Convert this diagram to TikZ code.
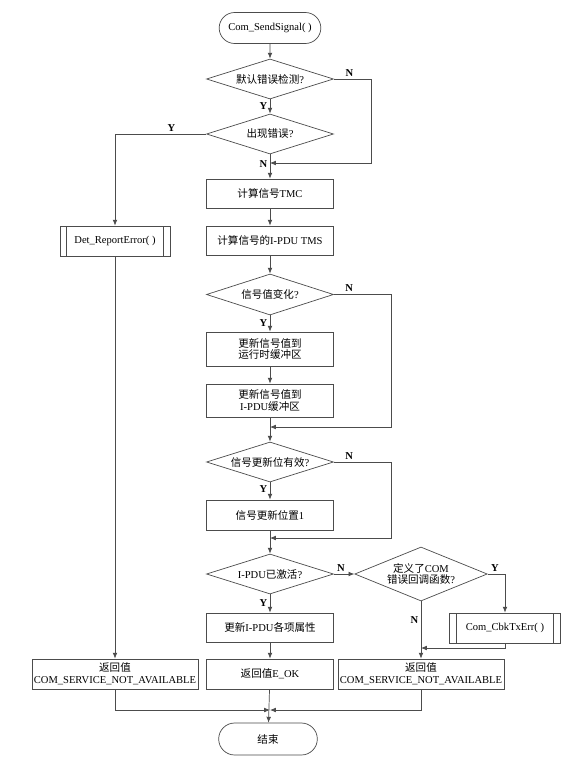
\documentclass[tikz,border=0pt]{standalone}
\usepackage{fontspec}
\setmainfont{Liberation Serif}
\newfontfamily\cjk{Noto Sans CJK SC}
\newcommand{\zh}[1]{{\cjk #1}}
\usetikzlibrary{positioning,shapes.geometric,shapes.misc,arrows.meta,calc}

\begin{document}
\begin{tikzpicture}[
    x=0.03cm, y=-0.03cm,
    % Flowchart styles
    base/.style={draw=black!70, line width=0.6pt, align=center, inner sep=1pt,
                 font=\fontsize{9}{10}\selectfont},
    terminal/.style={base, rounded rectangle, minimum width=3.12cm, minimum height=0.93cm},
    proc_box/.style={base, rectangle, minimum width=3.81cm, minimum height=0.87cm},
    sub_proc/.style={proc_box, path picture={
        \draw[black!70, line width=0.6pt]
            ([xshift=0.2cm]path picture bounding box.north west) -- ([xshift=0.2cm]path picture bounding box.south west)
            ([xshift=-0.2cm]path picture bounding box.north east) -- ([xshift=-0.2cm]path picture bounding box.south east);}},
    decision/.style={base, diamond, aspect=3, inner sep=0pt,
                     minimum width=3.81cm, minimum height=1.2cm},
    ret_box/.style={base, rectangle, inner xsep=0pt, minimum width=4.98cm, minimum height=0.9cm},
    yn/.style={font=\fontsize{9}{10}\selectfont\bfseries, inner sep=2pt},
    flow_arrow/.style={-{Latex[length=5pt,width=4pt]}, draw=black!70, line width=0.6pt}
]

\useasboundingbox[fill=white] (0,0) rectangle (571,760);

% Start
\node[terminal] (start) at (270,28) {Com\_SendSignal( )};

% Main column
\node[decision] (chk_default) at (270,79) {\zh{默认错误检测}?};
\node[decision] (chk_error) at (270,134) {\zh{出现错误}?};
\node[proc_box] (calc_tmc) at (270,193.5) {\zh{计算信号}TMC};
\node[proc_box] (calc_tms) at (270,240.5) {\zh{计算信号的}I-PDU TMS};
\node[decision, minimum height=1.23cm] (chk_change) at (270,294.5) {\zh{信号值变化}?};
\node[proc_box, minimum height=1.02cm] (upd_rt) at (270,349) {\zh{更新信号值到}\\\zh{运行时缓冲区}};
\node[proc_box, minimum height=0.99cm] (upd_pdu) at (270,400.5) {\zh{更新信号值到}\\I-PDU\zh{缓冲区}};
\node[decision] (chk_bit) at (270,462) {\zh{信号更新位有效}?};
\node[proc_box, minimum height=0.9cm] (set_bit) at (270,515) {\zh{信号更新位置}1};
\node[decision] (chk_active) at (270,574) {I-PDU\zh{已激活}?};
\node[proc_box] (upd_attr) at (270,627.5) {\zh{更新}I-PDU\zh{各项属性}};
\node[proc_box, minimum height=0.9cm] (ret_ok) at (270,674) {\zh{返回值}E\_OK};
\node[terminal, minimum width=3.03cm, minimum height=0.96cm] (stop) at (268,739) {\zh{结束}};

% Left branch
\node[sub_proc, minimum width=3.3cm, minimum height=0.9cm] (det_err) at (115,241) {Det\_ReportError(\ )};
\node[ret_box] (ret_left) at (115,674) {\zh{返回值}\\COM\_SERVICE\_NOT\_AVAILABLE};

% Right branch
\node[decision, minimum height=1.62cm] (chk_cbk) at (421,574) {\zh{定义了}COM\\\zh{错误回调函数}?};
\node[sub_proc, minimum width=3.33cm, minimum height=0.9cm] (cbk_err) at (505,628) {Com\_CbkTxErr( )};
\node[ret_box] (ret_right) at (421,674) {\zh{返回值}\\COM\_SERVICE\_NOT\_AVAILABLE};

% Merge points
\coordinate (m1) at (270,163);
\coordinate (m2) at (270,427);
\coordinate (m3) at (270,538);
\coordinate (m4) at (421,648);
\coordinate (m5) at (270,710);

% Main flow
\draw[flow_arrow] (start) -- (chk_default);
\draw[flow_arrow] (chk_default) -- node[yn, left, pos=0.5] {Y} (chk_error);
\draw[flow_arrow] (chk_default.east) -- node[yn, above, pos=0.42] {N} ++(37,0) |- (m1);
\draw[flow_arrow] (chk_error) -- node[yn, left, pos=0.4] {N} (calc_tmc);
\draw[flow_arrow] (chk_error.west) -| node[yn, above, pos=0.19] {Y} (det_err.north);
\draw[flow_arrow] (det_err) -- (ret_left);
\draw[flow_arrow] (calc_tmc) -- (calc_tms);
\draw[flow_arrow] (calc_tms) -- (chk_change);
\draw[flow_arrow] (chk_change) -- node[yn, left, pos=0.47] {Y} (upd_rt);
\draw[flow_arrow] (chk_change.east) -- node[yn, above, pos=0.27] {N} ++(57,0) |- (m2);
\draw[flow_arrow] (upd_rt) -- (upd_pdu);
\draw[flow_arrow] (upd_pdu) -- (chk_bit);
\draw[flow_arrow] (chk_bit) -- node[yn, left, pos=0.39] {Y} (set_bit);
\draw[flow_arrow] (chk_bit.east) -- node[yn, above, pos=0.27] {N} ++(57,0) |- (m3);
\draw[flow_arrow] (set_bit) -- (chk_active);
\draw[flow_arrow] (chk_active) -- node[yn, left, pos=0.47] {Y} (upd_attr);
\draw[flow_arrow] (chk_active) -- node[yn, above, pos=0.35] {N} (chk_cbk);

% Callback branch
\draw[flow_arrow] (chk_cbk.east) -| node[yn, above, pos=0.21] {Y} (cbk_err.north);
\draw[flow_arrow] (chk_cbk) -- node[yn, left, pos=0.33] {N} (ret_right);
\draw[flow_arrow] (cbk_err.south) |- (m4);

% Returns to end
\draw[flow_arrow] (upd_attr) -- (ret_ok);
\draw[flow_arrow] (ret_ok) -- (stop);
\draw[flow_arrow] (ret_left.south) |- (m5);
\draw[flow_arrow] (ret_right.south) |- (m5);

\end{tikzpicture}
\end{document}
